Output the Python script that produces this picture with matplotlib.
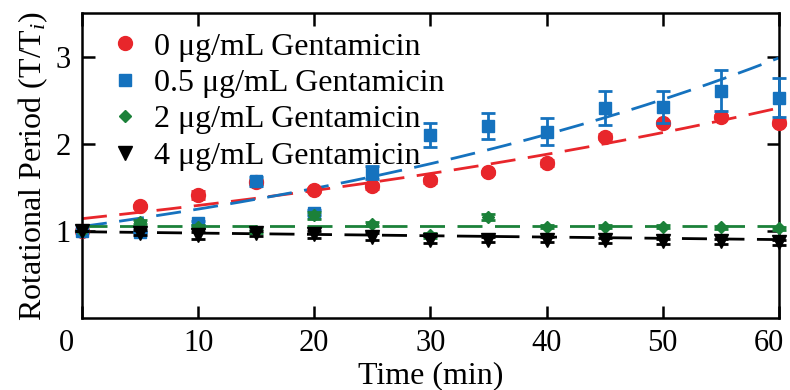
import matplotlib
matplotlib.use("Agg")
import matplotlib.pyplot as plt
import matplotlib.transforms as mtransforms
from matplotlib.lines import Line2D
import numpy as np

# measured rotational period (T/Ti) vs time
time_min = [0, 5, 10, 15, 20, 25, 30, 35, 40, 45, 50, 55, 60]

period_0 = [1.00, 1.28, 1.41, 1.56, 1.47, 1.51, 1.58, 1.67, 1.78, 2.08, 2.24, 2.31, 2.24]
err_0 = [0.0, 0.02, 0.05, 0.02, 0.02, 0.03, 0.03, 0.02, 0.03, 0.03, 0.02, 0.02, 0.03]

period_05 = [1.00, 0.99, 1.09, 1.57, 1.21, 1.67, 2.10, 2.20, 2.14, 2.41, 2.42, 2.61, 2.53]
err_05 = [0.0, 0.0, 0.02, 0.05, 0.03, 0.08, 0.14, 0.15, 0.16, 0.20, 0.18, 0.24, 0.22]

period_2 = [1.00, 1.10, 1.05, 1.00, 1.18, 1.08, 0.95, 1.16, 1.05, 1.05, 1.05, 1.04, 1.03]
err_2 = [0.0, 0.02, 0.02, 0.02, 0.04, 0.02, 0.03, 0.03, 0.02, 0.02, 0.02, 0.02, 0.02]

period_4 = [1.00, 0.98, 0.95, 0.97, 0.96, 0.93, 0.90, 0.90, 0.90, 0.89, 0.88, 0.88, 0.87]
err_4 = [0.0, 0.03, 0.04, 0.03, 0.04, 0.04, 0.04, 0.03, 0.03, 0.03, 0.03, 0.03, 0.03]

# exponential fits T/Ti = a * exp(k t)
fit_a = [1.14, 1.05, 1.06, 0.99]
fit_k = [0.01248, 0.01741, 0.0, -0.00159]

labels = ["0 μg/mL Gentamicin", "0.5 μg/mL Gentamicin",
          "2 μg/mL Gentamicin", "4 μg/mL Gentamicin"]
colors = ["#E8262B", "#1572BE", "#1B8139", "#000000"]
markers = ["o", "s", "D", "v"]
msizes = [10, 9, 6.5, 9.5]

plt.rcParams["font.family"] = ["Liberation Serif", "DejaVu Serif"]
plt.rcParams["mathtext.fontset"] = "custom"
plt.rcParams["mathtext.rm"] = "Liberation Serif"
plt.rcParams["mathtext.it"] = "Liberation Serif:italic"

fig = plt.figure(figsize=(7.9, 3.9), dpi=100)
ax = fig.add_axes([0.1038, 0.1846, 0.882, 0.782])

series = [(period_0, err_0), (period_05, err_05), (period_2, err_2), (period_4, err_4)]
t_fit = np.linspace(0, 60, 200)

for i, (vals, errs) in enumerate(series):
    ax.plot(t_fit, fit_a[i] * np.exp(fit_k[i] * t_fit), color=colors[i],
            lw=2, dashes=(9, 4.5), zorder=2)

for i, (vals, errs) in enumerate(series):
    ax.errorbar(time_min, vals, yerr=errs, fmt=markers[i], color=colors[i],
                ms=msizes[i], mec=colors[i], elinewidth=2, capsize=5,
                capthick=2, zorder=3 + i, clip_on=False)

ax.set_xlim(0, 60)
ax.set_ylim(0, 3.5)
ax.set_xticks([0, 10, 20, 30, 40, 50, 60])
ax.set_yticks([1, 2, 3])
ax.tick_params(direction="in", length=9, width=1.8, top=True, right=True,
               labelsize=22, pad=8)
for s in ax.spines.values():
    s.set_linewidth(1.8)

# end labels sit a bit inward of the axis corners
xlabs = ax.get_xticklabels()
xlabs[0].set_transform(xlabs[0].get_transform() +
                       mtransforms.ScaledTranslation(-0.16, 0, fig.dpi_scale_trans))
xlabs[-1].set_transform(xlabs[-1].get_transform() +
                        mtransforms.ScaledTranslation(-0.10, 0, fig.dpi_scale_trans))

ax.set_xlabel("Time (min)", fontsize=23, labelpad=2)
ax.set_ylabel("Rotational Period (T/T$_{i}$)", fontsize=23, labelpad=4)

handles = [Line2D([], [], ls="none", marker=markers[i], color=colors[i],
                  ms=msizes[i]) for i in range(4)]
ax.legend(handles, labels, loc="upper left", frameon=False, fontsize=23,
          handletextpad=0.15, labelspacing=0.22, borderaxespad=0.1,
          handlelength=1.5, borderpad=0.5)

fig.savefig("out.png", dpi=100)
